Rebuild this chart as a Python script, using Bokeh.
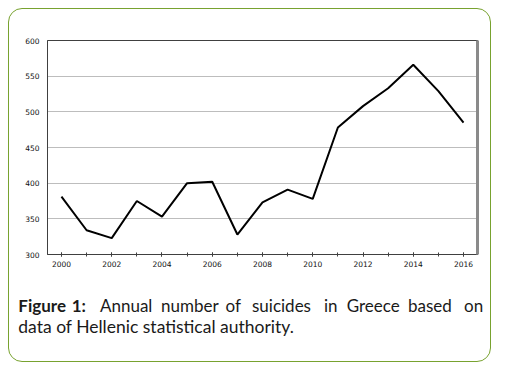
from bokeh.plotting import figure
from bokeh.layouts import column
from bokeh.models import Range1d, LinearAxis, SingleIntervalTicker, FixedTicker
from bokeh.core.properties import value
from bokeh.embed import file_html
from bokeh.resources import INLINE

years = list(range(2000, 2017))
suicides = [381, 334, 323, 375, 353, 400, 402, 328, 373, 391, 378,
            478, 508, 533, 566, 529, 485]
y_ticks = [300, 350, 400, 450, 500, 550, 600]

caption_bold = ["Figure", "1:"]
caption_line1 = ["Annual", "number", "of", "suicides", "in", "Greece", "based", "on"]
caption_line2 = ["data of Hellenic statistical authority."]

CW = 481

# ---------------- chart ----------------
p = figure(width=CW, height=275, output_backend="svg", toolbar_location=None,
           x_range=Range1d(1999.444, 2016.556), y_range=Range1d(300, 600),
           min_border_left=38, min_border_right=13, min_border_top=31,
           min_border_bottom=30)
p.frame_align = False
p.background_fill_color = "white"
p.border_fill_color = None
p.outline_line_color = "#404040"
p.outline_line_width = 1

p.line(years, suicides, line_color="black", line_width=2)

xa = p.xaxis[0]
xa.ticker = SingleIntervalTicker(interval=2, num_minor_ticks=2)
xa.axis_line_color = "#404040"
xa.major_tick_in = 2
xa.major_tick_out = 2
xa.minor_tick_in = 2
xa.minor_tick_out = 2
xa.major_tick_line_color = "#404040"
xa.minor_tick_line_color = "#404040"
xa.major_label_text_font = "DejaVu Sans"
xa.major_label_text_font_size = "7.5px"
xa.major_label_text_color = "#111111"
xa.major_label_standoff = 4

ya = p.yaxis[0]
ya.ticker = FixedTicker(ticks=y_ticks)
ya.axis_line_color = "#404040"
ya.major_tick_in = 0
ya.major_tick_out = 0
ya.minor_tick_line_color = None
ya.major_label_text_font = "DejaVu Sans"
ya.major_label_text_font_size = "7.5px"
ya.major_label_text_color = "#111111"
ya.major_label_standoff = 8

ra = LinearAxis(ticker=FixedTicker(ticks=[]), axis_line_color="#8a8a8a",
                axis_line_width=3, major_tick_line_color=None,
                minor_tick_line_color=None, major_label_text_font_size="0px")
p.add_layout(ra, "right")

p.xgrid.grid_line_color = None
p.ygrid.ticker = FixedTicker(ticks=y_ticks)
p.ygrid.grid_line_color = "#bdbdbd"
p.ygrid.grid_line_width = 1

# ---------------- caption ----------------
c = figure(width=CW, height=77, output_backend="svg", toolbar_location=None,
           x_range=Range1d(0, CW), y_range=Range1d(77, 0),
           x_axis_type=None, y_axis_type=None,
           min_border=0, min_border_left=0, min_border_right=0,
           min_border_top=0, min_border_bottom=0)
c.frame_align = False
c.grid.visible = False
c.outline_line_color = None
c.background_fill_color = None
c.border_fill_color = None

bold_x = [8.8, 62.2]
line1_x = [90.5, 151.5, 216.0, 242.5, 314.5, 337.2, 398.5, 454.5]
line1_y, line2_y = 20.5, 42
FS = "17px"

c.text(x=bold_x, y=[line1_y] * len(caption_bold), text=caption_bold,
       text_font=value("Lato"), text_font_style="bold", text_font_size=FS,
       text_color="#1a1a1a", text_baseline="alphabetic")
c.text(x=line1_x, y=[line1_y] * len(caption_line1), text=caption_line1,
       text_font=value("Lato"), text_font_size=FS,
       text_color="#1a1a1a", text_baseline="alphabetic")
c.text(x=[8.8], y=[line2_y], text=caption_line2,
       text_font=value("Lato"), text_font_size="17.5px",
       text_color="#1a1a1a", text_baseline="alphabetic")

layout = column(p, c, spacing=0, margin=(8, 0, 0, 8),
                styles={"border": "1.5px solid #78a22f",
                        "border-radius": "14px",
                        "background-color": "white"})

open("out.html", "w").write(file_html(layout, INLINE))
